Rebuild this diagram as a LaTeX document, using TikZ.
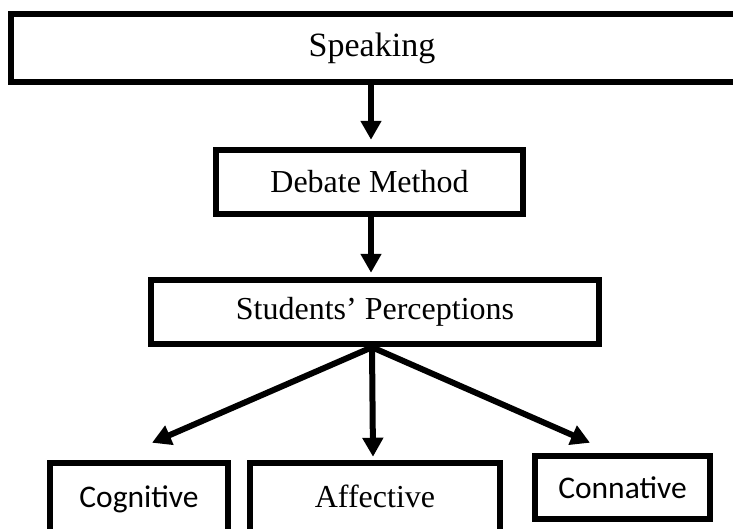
\documentclass[tikz,border=0pt]{standalone}
\usepackage{fontspec}
\setmainfont{Liberation Serif}
\newfontfamily\calib{Carlito}
\usetikzlibrary{arrows.meta}
\begin{document}
\begin{tikzpicture}[x=1pt,y=-1pt,
  box/.style={draw=black, line width=6.5pt, fill=white, inner sep=0pt,
    font=\fontsize{32}{38}\selectfont},
  cbox/.style={box, font=\calib\fontsize{31.5}{36}\selectfont},
  lbl/.style={inner sep=0pt, font=\fontsize{34}{40}\selectfont},
  conn/.style={line width=6pt, -{Triangle[width=20pt,length=19pt]}},
]
\useasboundingbox (0,0) rectangle (733,528);
\clip (0,0) rectangle (733,528);

% boxes
\node[box, line width=6pt, minimum width=770, minimum height=68] (speak) at (396,48) {};
\node[lbl] (speaktxt) at (372,48) {Speaking};
\node[box, minimum width=307, minimum height=64] (debate) at (369.5,182) {Debate Method};
\node[box, minimum width=448, minimum height=64] (stud) at (375,312) {Students’ Perceptions};
\node[cbox, minimum width=178, text height=44pt, text depth=53pt, anchor=base] (cog) at (139,507) {Cognitive};
\node[box, minimum width=250, text height=44pt, text depth=53pt, anchor=base] (aff) at (375,507) {Affective};
\node[cbox, minimum width=175, minimum height=63] (con) at (622.5,487.5) {Connative};

% connectors
\draw[conn] (speak.south -| 371,0) -- ([yshift=7pt]debate.north -| 371,0);
\draw[conn] (debate.south -| 371,0) -- ([yshift=4pt]stud.north -| 371,0);
\coordinate (br) at ([xshift=-3pt]stud.south);
\draw[conn] (br) -- ([shift={(13,-17)}]cog.north);
\draw[conn] (br) -- ([shift={(-2,-3)}]aff.north);
\draw[conn] (br) -- ([shift={(-32.5,-10)}]con.north);
\end{tikzpicture}
\end{document}
